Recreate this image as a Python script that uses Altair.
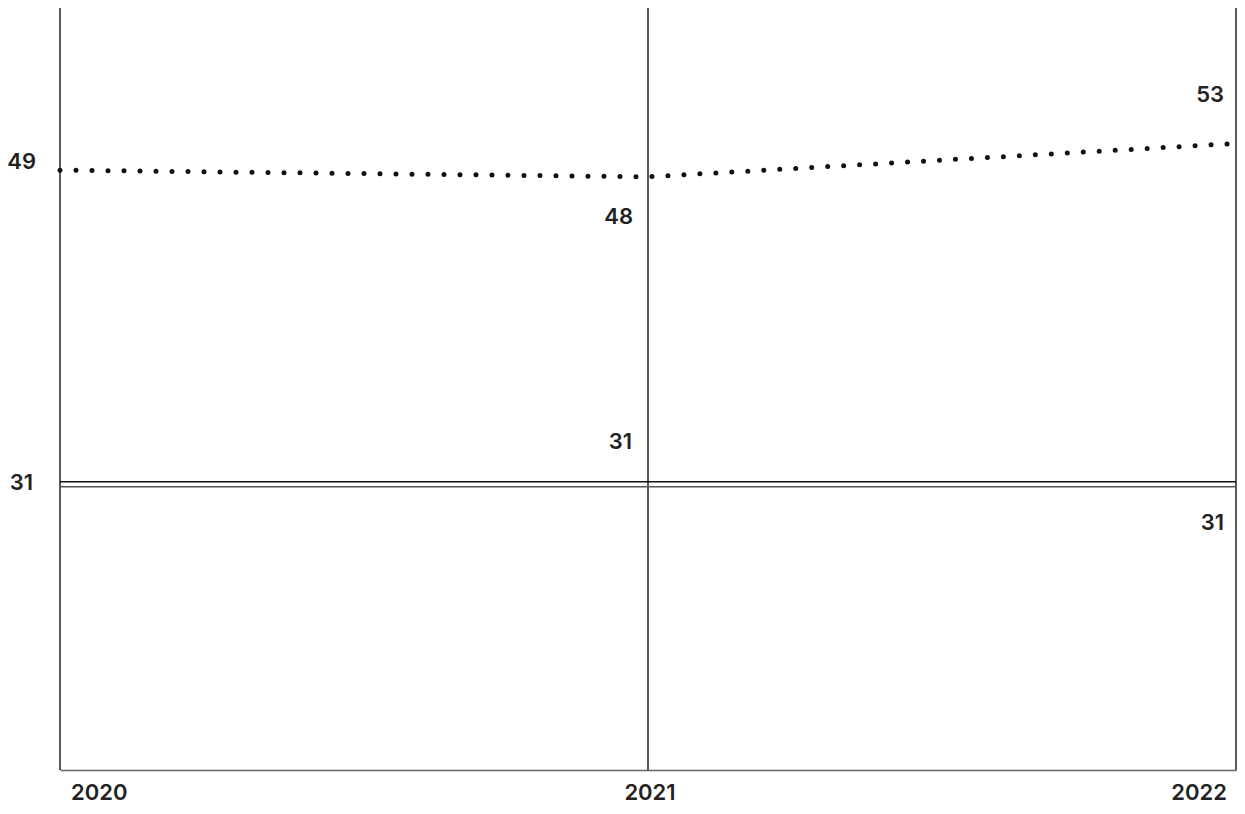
import altair as alt
import pandas as pd

# ---- data ----
years = [2020, 2021, 2022]
year_labels = ["2020", "2021", "2022"]
dotted_values = [49, 48, 53]
flat_values = [31, 31, 31]
dotted_labels = ["49", "48", "53"]
flat_labels = ["31", "31", "31"]

dotted_df = pd.DataFrame({"year": years, "value": dotted_values, "label": dotted_labels})
flat_df = pd.DataFrame({"year": years, "value": flat_values, "label": flat_labels})
year_df = pd.DataFrame({"year": years, "label": year_labels})

FONT = "Inter"
FSIZE = 22
FWEIGHT = 600
TCOLOR = "#222222"
PLOT_H = 762

x_axis = alt.Axis(
    values=years, title=None, grid=False, labels=False,
    ticks=False, domain=True, domainColor="#666666", domainWidth=1.5,
)
x_enc = alt.X("year:Q", scale=alt.Scale(domain=[2020, 2022], nice=False, zero=False), axis=x_axis)

dot_scale = alt.Scale(domain=[-40.9, 73.3], nice=False, zero=False)
flat_scale = alt.Scale(domain=[0, 82.7], nice=False, zero=False)


def y_enc(scale):
    return alt.Y("value:Q", scale=scale, axis=None)


def labels(df, scale, year, dx, dy):
    return (
        alt.Chart(df)
        .transform_filter(alt.datum.year == year)
        .mark_text(align="right", baseline="alphabetic", dx=dx, dy=dy, font=FONT,
                   fontSize=FSIZE, fontWeight=FWEIGHT, color=TCOLOR)
        .encode(x=x_enc, y=y_enc(scale), text="label:N")
    )


def year_label(year, align, dx):
    return (
        alt.Chart(year_df)
        .transform_filter(alt.datum.year == year)
        .mark_text(align=align, baseline="alphabetic", dx=dx, font=FONT,
                   fontSize=FSIZE, fontWeight=FWEIGHT, color=TCOLOR)
        .encode(x=x_enc, y=alt.value(PLOT_H + 30), text="label:N")
    )


grid = alt.Chart(year_df).mark_rule(color="#000000", strokeWidth=1.3).encode(x=x_enc)

dotted_line = alt.Chart(dotted_df).mark_line(
    color="#111111", strokeWidth=5, strokeDash=[0, 16], strokeCap="round"
).encode(x=x_enc, y=y_enc(dot_scale))

flat_top = alt.Chart(flat_df).mark_line(color="#111111", strokeWidth=1.5, yOffset=-2.5).encode(
    x=x_enc, y=y_enc(flat_scale))
flat_bottom = alt.Chart(flat_df).mark_line(color="#555555", strokeWidth=1.5, yOffset=2.5).encode(
    x=x_enc, y=y_enc(flat_scale))

layers = [
    grid, flat_top, flat_bottom, dotted_line,
    labels(dotted_df, dot_scale, 2020, -24, -1),
    labels(dotted_df, dot_scale, 2021, -15, 47),
    labels(dotted_df, dot_scale, 2022, -12, -41),
    labels(flat_df, flat_scale, 2020, -27, 6),
    labels(flat_df, flat_scale, 2021, -16, -35),
    labels(flat_df, flat_scale, 2022, -12, 46),
    year_label(2020, "left", 11),
    year_label(2021, "center", 2),
    year_label(2022, "right", -9),
]

chart = (
    alt.layer(*layers)
    .resolve_scale(y="independent")
    .properties(
        width=1176, height=PLOT_H,
        autosize=alt.AutoSizeParams(type="none"),
        padding={"left": 52, "top": 0, "right": 1, "bottom": 36},
    )
    .configure_view(stroke=None)
)

chart.save("out.html", embed_options={"renderer": "svg", "actions": False})
